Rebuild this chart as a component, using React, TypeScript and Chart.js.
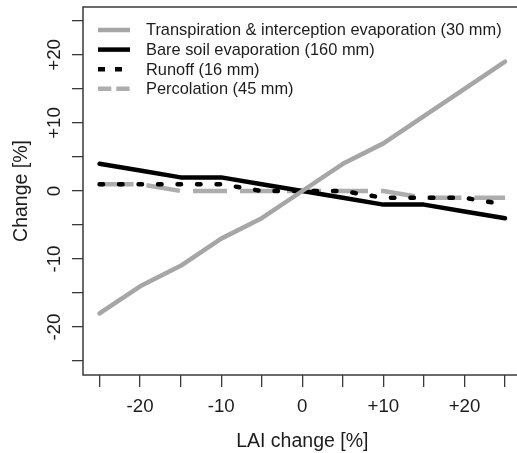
import React, { useEffect, useRef } from "react";
import { Chart, registerables } from "chart.js";

Chart.register(...registerables);

// ---- Data ----
const laiChange = [-25, -20, -15, -10, -5, 0, 5, 10, 15, 20, 25];
const transpiration = [-18, -14, -11, -7, -4, 0, 4, 7, 11, 15, 19];
const bareSoil = [4, 3, 2, 2, 1, 0, -1, -2, -2, -3, -4];
const runoff = [1, 1, 1, 1, 0, 0, 0, -1, -1, -1, -2];
const percolation = [1, 1, 0, 0, 0, 0, 0, 0, -1, -1, -1];

const seriesLabels = [
  "Transpiration & interception evaporation (30 mm)",
  "Bare soil evaporation (160 mm)",
  "Runoff (16 mm)",
  "Percolation (45 mm)",
];

const xTickValues = [-25, -20, -15, -10, -5, 0, 5, 10, 15, 20, 25];
const yTickValues = [-25, -20, -15, -10, -5, 0, 5, 10, 15, 20, 25];
const labelledTicks = [-20, -10, 0, 10, 20];

const xTitle = "LAI change [%]";
const yTitle = "Change [%]";

const FONT = "'Liberation Sans', Arial, Helvetica, sans-serif";
const TEXT = "#1c1c1c";
const AXIS = "#3a3a3a";

const fmt = (v: number) => (v > 0 ? "+" + v : String(v));

const toPoints = (ys: number[]) => laiChange.map((x, i) => ({ x, y: ys[i] }));

const boxPlugin = {
  id: "rBox",
  beforeDatasetsDraw(chart: any) {
    const { ctx, chartArea } = chart;
    ctx.save();
    ctx.strokeStyle = AXIS;
    ctx.lineWidth = 1.5;
    ctx.strokeRect(
      chartArea.left,
      chartArea.top,
      chartArea.right - chartArea.left,
      chartArea.bottom - chartArea.top
    );
    ctx.restore();
  },
};

const legendPlugin = {
  id: "rLegend",
  afterDatasetsDraw(chart: any) {
    const { ctx, chartArea } = chart;
    const x0 = chartArea.left + 15;
    const x1 = chartArea.left + 47;
    const tx = chartArea.left + 63;
    const rowGap = 19.6;
    const y0 = chartArea.top + 23;
    ctx.save();
    chart.data.datasets.forEach((ds: any, i: number) => {
      const y = y0 + i * rowGap;
      ctx.beginPath();
      ctx.strokeStyle = ds.borderColor;
      ctx.lineWidth = ds.borderWidth;
      ctx.lineCap = ds.legendCap || "butt";
      ctx.setLineDash(ds.legendDash || []);
      ctx.moveTo(x0, y);
      ctx.lineTo(x1, y);
      ctx.stroke();
      ctx.setLineDash([]);
      ctx.fillStyle = TEXT;
      ctx.font = `16.4px ${FONT}`;
      ctx.textAlign = "left";
      ctx.textBaseline = "middle";
      ctx.fillText(ds.label, tx, y + 0.8);
    });
    ctx.restore();
  },
};

export default function App() {
  const canvasRef = useRef<HTMLCanvasElement | null>(null);

  useEffect(() => {
    const canvas = canvasRef.current;
    if (!canvas) return;
    const chart = new Chart(canvas, {
      type: "line",
      data: {
        datasets: [
          {
            label: seriesLabels[0],
            data: toPoints(transpiration),
            borderColor: "#a6a6a6",
            borderWidth: 4.5,
            pointRadius: 0,
            borderJoinStyle: "round",
            borderCapStyle: "round",
            order: 0,
          } as any,
          {
            label: seriesLabels[1],
            data: toPoints(bareSoil),
            borderColor: "#000000",
            borderWidth: 4.5,
            pointRadius: 0,
            borderJoinStyle: "round",
            borderCapStyle: "round",
            order: 2,
          },
          {
            label: seriesLabels[2],
            data: toPoints(runoff),
            borderColor: "#000000",
            borderWidth: 4.5,
            pointRadius: 0,
            borderDash: [3.5, 16],
            borderCapStyle: "round",
            borderJoinStyle: "round",
            legendDash: [7, 10],
            legendCap: "butt",
            order: 1,
          },
          {
            label: seriesLabels[3],
            data: toPoints(percolation),
            borderColor: "#adadad",
            borderWidth: 4.5,
            pointRadius: 0,
            borderDash: [34, 13],
            borderCapStyle: "butt",
            borderJoinStyle: "round",
            legendDash: [13.3, 5],
            legendCap: "butt",
            order: 3,
          },
        ],
      },
      options: {
        animation: false,
        responsive: false,
        devicePixelRatio: 1,
        events: [],
        layout: { padding: { top: 7, right: 8.4, left: 0, bottom: 0 } },
        font: { family: FONT },
        plugins: {
          legend: { display: false },
          tooltip: { enabled: false },
        },
        scales: {
          x: {
            type: "linear",
            min: -27.04,
            max: 27.04,
            afterBuildTicks: (s: any) => {
              s.ticks = xTickValues.map((v) => ({ value: v }));
            },
            afterFit: (s: any) => {
              s.height = 78;
              s.paddingLeft = 0;
              s.paddingRight = 0;
            },
            grid: {
              drawOnChartArea: false,
              drawTicks: true,
              tickLength: 12,
              color: AXIS,
              lineWidth: 1.3,
            },
            border: { display: false },
            ticks: {
              autoSkip: false,
              maxRotation: 0,
              minRotation: 0,
              padding: 9,
              color: TEXT,
              font: { family: FONT, size: 18.7 },
              callback: (v: any) => (labelledTicks.includes(v) ? fmt(v) : ""),
            },
            title: {
              display: true,
              text: xTitle,
              color: TEXT,
              font: { family: FONT, size: 19.5, lineHeight: 1.16 },
              padding: { top: 0, bottom: 0 },
            },
          },
          y: {
            type: "linear",
            min: -27.04,
            max: 27.04,
            afterBuildTicks: (s: any) => {
              s.ticks = yTickValues.map((v) => ({ value: v }));
            },
            afterFit: (s: any) => {
              s.width = 83;
              s.paddingTop = 0;
              s.paddingBottom = 0;
            },
            grid: {
              drawOnChartArea: false,
              drawTicks: true,
              tickLength: 11,
              color: AXIS,
              lineWidth: 1.3,
            },
            border: { display: false },
            ticks: {
              autoSkip: false,
              minRotation: 90,
              maxRotation: 90,
              crossAlign: "center",
              padding: 1,
              color: TEXT,
              font: { family: FONT, size: 18.7 },
              callback: (v: any) => (labelledTicks.includes(v) ? fmt(v) : ""),
            },
            title: {
              display: true,
              text: yTitle,
              color: TEXT,
              font: { family: FONT, size: 19.5, lineHeight: 1.16 },
              padding: { top: 10, bottom: 0 },
            },
          },
        },
      } as any,
      plugins: [boxPlugin, legendPlugin],
    });
    return () => chart.destroy();
  }, []);

  return (
    <div
      style={{
        position: "fixed",
        left: 0,
        top: 0,
        width: 517,
        height: 453,
        overflow: "hidden",
        background: "#ffffff",
      }}
    >
      <canvas
        ref={canvasRef}
        width={530}
        height={453}
        style={{ width: 530, height: 453, display: "block" }}
      />
    </div>
  );
}
